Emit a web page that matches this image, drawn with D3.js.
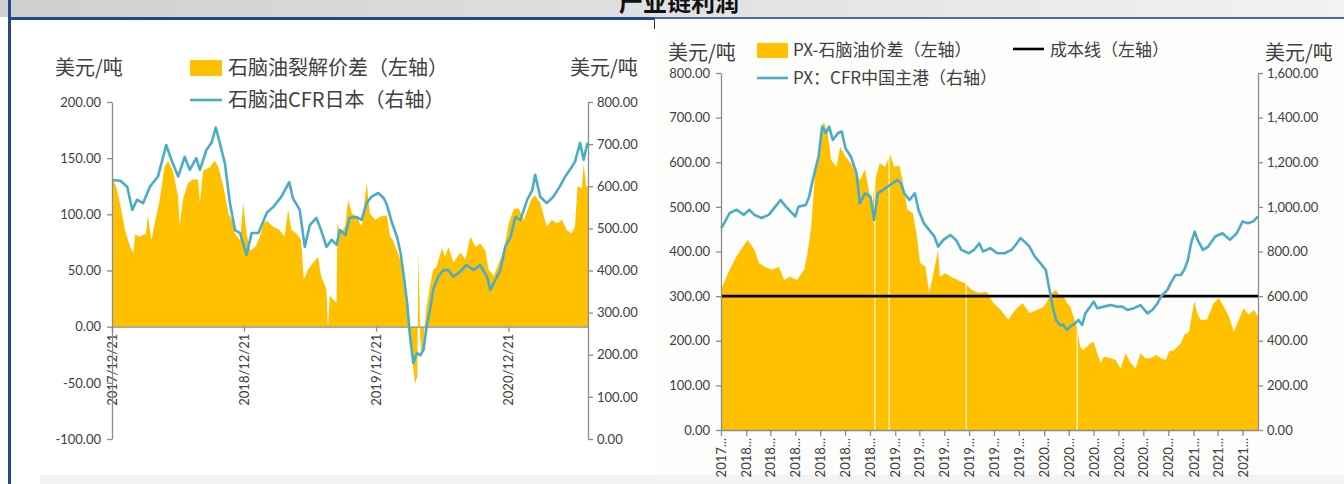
<!DOCTYPE html>
<html>
<head>
<meta charset="utf-8">
<script src="https://cdn.jsdelivr.net/npm/d3@7"></script>
<style>
    body { margin: 0; background: #ffffff; }
    svg text { font-family: Lato, "Noto Sans CJK SC", sans-serif; }
</style>
</head>
<body>
<svg id="vis_svg"></svg>
<script>
// ---- Data ----

// Left chart: naphtha crack spread (left axis)
const crackDates = ['2017-12-21','2017-12-23','2018-01-03','2018-01-12','2018-01-26','2018-02-09','2018-02-18','2018-02-23','2018-03-08','2018-03-25',
    '2018-03-30','2018-04-09','2018-04-18','2018-05-02','2018-05-15','2018-05-25','2018-06-08','2018-06-22','2018-06-26','2018-07-05',
    '2018-07-19','2018-08-02','2018-08-16','2018-08-21','2018-08-30','2018-09-18','2018-10-01','2018-10-11','2018-10-25','2018-11-08',
    '2018-11-17','2018-11-26','2018-12-10','2018-12-19','2018-12-28','2019-01-07','2019-01-21','2019-02-03','2019-02-13','2019-02-22',
    '2019-03-12','2019-03-29','2019-04-12','2019-04-22','2019-05-01','2019-05-15','2019-05-28','2019-06-04','2019-06-16','2019-06-30',
    '2019-07-14','2019-07-22','2019-08-06','2019-08-10','2019-08-15','2019-08-25','2019-09-03','2019-09-05','2019-09-13','2019-09-26',
    '2019-10-05','2019-10-15','2019-10-28','2019-11-11','2019-11-25','2019-12-04','2019-12-18','2020-01-01','2020-01-20','2020-01-29',
    '2020-02-06','2020-02-27','2020-03-07','2020-03-16','2020-03-24','2020-03-29','2020-04-02','2020-04-07','2020-04-13','2020-04-16',
    '2020-04-21','2020-04-25','2020-04-30','2020-05-04','2020-05-09','2020-05-18','2020-05-27','2020-06-05','2020-06-20','2020-06-29',
    '2020-07-08','2020-07-22','2020-08-10','2020-08-24','2020-09-07','2020-09-21','2020-10-04','2020-10-18','2020-10-27','2020-11-11',
    '2020-11-25','2020-12-08','2020-12-22','2021-01-05','2021-01-19','2021-02-02','2021-02-21','2021-03-05','2021-03-19','2021-04-06',
    '2021-04-20','2021-05-04','2021-05-18','2021-05-31','2021-06-14','2021-06-23','2021-06-30','2021-07-12','2021-07-17','2021-07-24',
    '2021-07-29'];
const crackSpread = [132,132,123,110,86,71,66,82,80,83,
    99,77,92,113,142,148,138,115,89,113,
    128,131,131,110,139,142,148,142,125,101,
    95,83,77,110,83,68,71,80,92,94,
    89,86,80,104,86,83,77,42,51,57,
    62,45,33,-3,28,24,21,92,83,89,
    113,101,98,89,128,101,95,98,99,80,
    77,59,36,15,-3,-18,-38,-51,-44,67,
    -7,-29,-17,3,18,36,51,53,70,62,
    71,57,66,60,80,71,74,68,51,45,
    57,68,92,105,105,95,113,117,110,89,
    95,92,95,86,83,89,125,123,145,125,
    125];

// Left chart: naphtha CFR Japan (right axis)
const japanDates = ['2017-12-21','2018-01-13','2018-02-01','2018-02-15','2018-02-28','2018-03-17','2018-04-05','2018-04-27','2018-05-20','2018-06-03',
    '2018-06-22','2018-07-10','2018-07-24','2018-08-11','2018-08-21','2018-09-08','2018-09-22','2018-10-04','2018-10-15','2018-10-29',
    '2018-11-12','2018-11-26','2018-12-10','2018-12-28','2019-01-11','2019-01-30','2019-02-22','2019-03-12','2019-04-03','2019-04-25',
    '2019-05-05','2019-05-24','2019-06-07','2019-06-21','2019-07-09','2019-07-22','2019-08-06','2019-08-20','2019-09-03','2019-09-12',
    '2019-09-27','2019-10-09','2019-10-27','2019-11-11','2019-11-25','2019-12-08','2019-12-27','2020-01-11','2020-01-20','2020-02-03',
    '2020-02-17','2020-02-27','2020-03-07','2020-03-16','2020-03-24','2020-04-02','2020-04-12','2020-04-21','2020-04-30','2020-05-09',
    '2020-05-18','2020-05-27','2020-06-10','2020-06-24','2020-07-08','2020-07-22','2020-08-09','2020-08-27','2020-09-16','2020-10-04',
    '2020-10-23','2020-11-01','2020-11-15','2020-11-29','2020-12-12','2020-12-27','2021-01-09','2021-01-23','2021-02-11','2021-02-25',
    '2021-03-05','2021-03-19','2021-04-06','2021-04-24','2021-05-12','2021-05-26','2021-06-09','2021-06-23','2021-07-07','2021-07-17',
    '2021-07-26','2021-07-29'];
const japanPrice = [615,613,599,544,568,560,599,623,698,663,
    623,670,639,667,639,686,703,739,703,655,
    560,496,489,437,489,489,537,551,575,610,
    572,544,456,508,525,496,456,473,461,496,
    484,525,527,520,560,575,584,572,556,513,
    480,441,385,323,243,180,204,199,211,267,
    306,354,385,401,401,385,397,413,401,413,
    385,354,378,401,456,480,527,520,568,591,
    627,575,560,575,599,622,639,658,703,663,
    698,703];

// Right chart: PX - naphtha spread (left axis)
const pxSpreadDates = ['2017-12-21','2017-12-24','2018-01-11','2018-01-28','2018-02-24','2018-03-13','2018-03-24','2018-04-07','2018-04-25','2018-05-12',
    '2018-05-25','2018-06-08','2018-06-25','2018-07-13','2018-07-21','2018-07-30','2018-08-08','2018-08-17','2018-08-26','2018-08-30',
    '2018-09-08','2018-09-17','2018-09-30','2018-10-09','2018-10-22','2018-11-04','2018-11-18','2018-11-26','2018-12-09','2018-12-18',
    '2018-12-27','2019-01-05','2019-01-14','2019-01-27','2019-02-09','2019-02-18','2019-03-03','2019-03-11','2019-03-23','2019-04-05',
    '2019-04-14','2019-04-23','2019-05-06','2019-05-15','2019-05-24','2019-06-06','2019-06-10','2019-06-24','2019-07-06','2019-07-24',
    '2019-08-11','2019-08-28','2019-09-15','2019-10-03','2019-10-20','2019-11-07','2019-11-25','2019-12-12','2019-12-30','2020-01-16',
    '2020-02-03','2020-02-21','2020-03-10','2020-03-21','2020-03-31','2020-04-08','2020-04-17','2020-04-25','2020-05-03','2020-05-11',
    '2020-05-19','2020-05-27','2020-06-13','2020-06-21','2020-06-30','2020-07-08','2020-07-16','2020-08-02','2020-08-14','2020-08-26',
    '2020-09-08','2020-09-20','2020-10-02','2020-10-14','2020-10-26','2020-11-08','2020-11-21','2020-12-03','2020-12-15','2020-12-23',
    '2021-01-05','2021-01-13','2021-01-21','2021-01-29','2021-02-10','2021-02-19','2021-02-23','2021-03-02','2021-03-10','2021-03-26',
    '2021-04-11','2021-04-24','2021-05-06','2021-05-19','2021-05-31','2021-06-12','2021-06-24','2021-07-06','2021-07-19','2021-07-29'];
const pxSpread = [318,321,359,389,426,404,374,366,359,366,
    336,344,336,359,396,456,568,613,680,691,
    666,605,590,635,613,598,576,560,583,538,
    508,568,598,590,617,590,592,560,493,486,
    441,374,366,307,344,404,344,351,344,336,
    329,314,307,310,284,269,247,269,284,262,
    269,277,307,314,299,301,284,277,254,232,
    187,179,194,197,172,150,164,161,157,138,
    172,150,138,172,161,161,168,161,157,176,
    179,187,194,213,220,269,288,262,247,247,
    284,295,277,254,220,247,273,258,269,254];
// days with no spread value (thin white gaps in the fill)
const pxSpreadGaps = ['2019-01-02','2019-02-06','2019-08-14','2020-05-12'];

// Right chart: cost line (left axis)
const costLine = 300;

// Right chart: PX CFR China main port (right axis)
const pxPriceDates = ['2017-12-21','2017-12-24','2018-01-11','2018-01-28','2018-02-15','2018-02-28','2018-03-13','2018-03-30','2018-04-17','2018-05-03',
    '2018-05-16','2018-05-29','2018-06-21','2018-06-29','2018-07-17','2018-07-25','2018-08-03','2018-08-17','2018-08-26','2018-09-04',
    '2018-09-12','2018-09-21','2018-10-04','2018-10-13','2018-10-22','2018-11-04','2018-11-18','2018-11-26','2018-12-09','2018-12-22',
    '2018-12-31','2019-01-09','2019-01-22','2019-02-09','2019-02-26','2019-03-07','2019-03-15','2019-03-28','2019-04-10','2019-04-19',
    '2019-05-02','2019-05-15','2019-05-28','2019-06-06','2019-06-19','2019-07-06','2019-07-20','2019-08-02','2019-08-20','2019-09-02',
    '2019-09-15','2019-09-24','2019-10-12','2019-10-29','2019-11-16','2019-12-03','2019-12-16','2019-12-25','2020-01-08','2020-01-16',
    '2020-01-29','2020-02-12','2020-02-25','2020-03-05','2020-03-13','2020-03-21','2020-03-31','2020-04-08','2020-04-17','2020-04-25',
    '2020-05-07','2020-05-15','2020-05-24','2020-06-01','2020-06-13','2020-06-21','2020-06-30','2020-07-16','2020-08-02','2020-08-18',
    '2020-08-30','2020-09-12','2020-09-28','2020-10-14','2020-10-31','2020-11-12','2020-11-25','2020-12-03','2020-12-11','2020-12-19',
    '2020-12-27','2021-01-08','2021-01-21','2021-01-29','2021-02-07','2021-02-15','2021-02-24','2021-03-03','2021-03-16','2021-03-29',
    '2021-04-15','2021-05-03','2021-05-21','2021-06-07','2021-06-21','2021-07-04','2021-07-17','2021-07-29'];
const pxPrice = [905,912,972,987,964,987,964,950,964,1001,
    1031,1001,957,1001,1009,1046,1121,1226,1360,1331,
    1360,1300,1331,1338,1263,1226,1152,1016,1061,1046,
    942,1061,1076,1099,1121,1106,1061,1031,1061,987,
    927,897,867,822,852,874,852,807,792,807,
    837,800,815,792,792,807,837,860,837,822,
    777,747,717,628,553,493,470,471,448,463,
    478,493,471,523,553,575,546,553,560,553,
    553,538,546,560,523,538,568,598,613,628,
    658,695,695,717,760,837,889,852,807,822,
    867,882,852,882,934,927,934,957];

// Axis ticks and labels
const leftXTicks = ['2017-12-21','2018-12-21','2019-12-21','2020-12-21'];
const crackTicks = [-100,-50,0,50,100,150,200];
const japanTicks = [0,100,200,300,400,500,600,700,800];
const pxSpreadTicks = [0,100,200,300,400,500,600,700,800];
const pxPriceTicks = [0,200,400,600,800,1000,1200,1400,1600];
const rightXTickCount = 22;            // one every two months from 2017-12-21
const dateRange = ['2017-12-21','2021-07-29'];

const titleText = '产业链利润';
const unitText = '美元/吨';

// ---- Layout ----
let config = {
    'svg': { 'width': 1344, 'height': 484 },
    'left': {},
    'right': {}
};
config.left.x0 = 112;  config.left.x1 = 588;
config.left.yTop = 102; config.left.yBottom = 439;
config.right.x0 = 721; config.right.x1 = 1258;
config.right.yTop = 73; config.right.yBottom = 430;

const colors = {
    orange: '#FFC000',
    blue: '#4BACC6',
    axis: '#8c8c8c',
    text: '#404040'
};

const parse = d3.timeParse('%Y-%m-%d');
let svg;

function visSetup() {
    svg = d3.select('#vis_svg')
        .attr('width', config.svg.width)
        .attr('height', config.svg.height);

    // Page frame: title bar, rules, panel backgrounds
    let defs = svg.append('defs');
    let grad = defs.append('linearGradient').attr('id', 'titleGrad');
    grad.append('stop').attr('offset', '0%').attr('stop-color', '#cfcfcf');
    grad.append('stop').attr('offset', '100%').attr('stop-color', '#f2f2f2');

    svg.append('rect').attr('x', 655).attr('y', 20).attr('width', 689).attr('height', 456).attr('fill', '#fdfdfc');
    svg.append('rect').attr('x', 0).attr('y', 0).attr('width', 1344).attr('height', 17).attr('fill', 'url(#titleGrad)');
    // the heading sits half above the top edge, as in the source page
    svg.append('text')
        .attr('x', 679).attr('y', 11)
        .attr('text-anchor', 'middle')
        .style('font-family', '"Noto Sans CJK SC", sans-serif')
        .style('font-size', '24px')
        .style('font-weight', 'bold')
        .attr('fill', '#111')
        .text(titleText);
    svg.append('rect').attr('x', 8).attr('y', 17).attr('width', 647).attr('height', 3).attr('fill', '#24478c');
    svg.append('rect').attr('x', 655).attr('y', 17).attr('width', 689).attr('height', 2).attr('fill', '#4a6aa8');
    svg.append('rect').attr('x', 8).attr('y', 0).attr('width', 3).attr('height', 484).attr('fill', '#24478c');
    svg.append('line').attr('x1', 654.5).attr('x2', 654.5).attr('y1', 20).attr('y2', 29).attr('stroke', '#333').attr('stroke-width', 1);
    svg.append('rect').attr('x', 40).attr('y', 475).attr('width', 1304).attr('height', 9).attr('fill', '#f3f3f3');
}

function toSeries(dates, values) {
    return d3.zip(dates, values).map(d => ({ date: parse(d[0]), value: d[1] }));
}

function styleAxis(g) {
    g.select('.domain').attr('stroke', colors.axis).attr('stroke-width', 1.3);
    g.selectAll('.tick line').attr('stroke', colors.axis).attr('stroke-width', 1.3);
    g.selectAll('.tick text')
        .attr('fill', colors.text)
        .style('font-family', 'Lato, sans-serif')
        .style('font-size', '13px');
}

/**
 * Left chart: naphtha crack spread vs naphtha CFR Japan
 */
function drawLeft() {
    let c = config.left;
    let g = svg.append('g').attr('id', 'left_chart');

    let x = d3.scaleTime().domain(dateRange.map(parse)).range([c.x0, c.x1]);
    let yL = d3.scaleLinear().domain([-100, 200]).range([c.yBottom, c.yTop]);
    let yR = d3.scaleLinear().domain([0, 800]).range([c.yBottom, c.yTop]);

    let spread = toSeries(crackDates, crackSpread);
    let price = toSeries(japanDates, japanPrice);

    g.append('path')
        .datum(spread)
        .attr('fill', colors.orange)
        .attr('d', d3.area().x(d => x(d.date)).y0(yL(0)).y1(d => yL(d.value)));

    // x axis on the zero line
    let xAxis = g.append('g')
        .attr('transform', translate(0, yL(0)))
        .call(d3.axisBottom(x).tickValues(leftXTicks.map(parse)).tickSize(5).tickSizeOuter(0)
            .tickFormat(d3.timeFormat('%Y/%m/%d')));
    styleAxis(xAxis);
    xAxis.selectAll('.tick text')
        .attr('transform', 'rotate(-90)')
        .attr('text-anchor', 'end')
        .attr('x', -7).attr('y', 0).attr('dy', '0.35em');

    g.append('path')
        .datum(price)
        .attr('fill', 'none')
        .attr('stroke', colors.blue)
        .attr('stroke-width', 2.6)
        .attr('stroke-linejoin', 'round')
        .attr('d', d3.line().x(d => x(d.date)).y(d => yR(d.value)));

    let axL = g.append('g')
        .attr('transform', translate(c.x0, 0))
        .call(d3.axisLeft(yL).tickValues(crackTicks).tickSize(5).tickPadding(6).tickSizeOuter(0)
            .tickFormat(d => d.toFixed(2)));
    styleAxis(axL);

    let axR = g.append('g')
        .attr('transform', translate(c.x1, 0))
        .call(d3.axisRight(yR).tickValues(japanTicks).tickSize(5).tickPadding(4).tickSizeOuter(0)
            .tickFormat(d3.format(',.2f')));
    styleAxis(axR);

    // units
    g.append('text').attr('class', 'cjk').attr('x', 55).attr('y', 75).text(unitText);
    g.append('text').attr('class', 'cjk').attr('x', 570).attr('y', 75).text(unitText);

    // legend
    g.append('rect').attr('x', 190).attr('y', 60).attr('width', 32).attr('height', 16).attr('fill', colors.orange);
    g.append('text').attr('class', 'cjk').attr('x', 228).attr('y', 75).text('石脑油裂解价差（左轴）');
    g.append('line').attr('x1', 190).attr('x2', 222).attr('y1', 100).attr('y2', 100)
        .attr('stroke', colors.blue).attr('stroke-width', 2.6);
    g.append('text').attr('class', 'cjk').attr('x', 228).attr('y', 107).text('石脑油CFR日本（右轴）');

    g.selectAll('text.cjk')
        .style('font-family', '"Noto Sans CJK SC", sans-serif')
        .style('font-size', '20px')
        .attr('fill', colors.text);
}

/**
 * Right chart: PX - naphtha spread, cost line and PX CFR China
 */
function drawRight() {
    let c = config.right;
    let g = svg.append('g').attr('id', 'right_chart');

    let x = d3.scaleTime().domain(dateRange.map(parse)).range([c.x0, c.x1]);
    let yL = d3.scaleLinear().domain([0, 800]).range([c.yBottom, c.yTop]);
    let yR = d3.scaleLinear().domain([0, 1600]).range([c.yBottom, c.yTop]);

    let spread = toSeries(pxSpreadDates, pxSpread);
    let price = toSeries(pxPriceDates, pxPrice);

    let spreadArea = d3.area().x(d => x(d.date)).y0(yL(0)).y1(d => yL(d.value));

    g.append('clipPath').attr('id', 'spreadClip')
        .append('path').datum(spread).attr('d', spreadArea);

    g.append('path')
        .datum(spread)
        .attr('fill', colors.orange)
        .attr('d', spreadArea);

    // missing days show as hairline gaps inside the fill
    g.append('g')
        .attr('clip-path', 'url(#spreadClip)')
        .selectAll('line')
        .data(pxSpreadGaps.map(parse))
        .join('line')
        .attr('x1', d => x(d)).attr('x2', d => x(d))
        .attr('y1', yL(0)).attr('y2', c.yTop)
        .attr('stroke', '#fff6dc').attr('stroke-width', 1.2);

    g.append('line')
        .attr('x1', x.range()[0]).attr('x2', x.range()[1])
        .attr('y1', yL(costLine)).attr('y2', yL(costLine))
        .attr('stroke', '#000').attr('stroke-width', 2.6);

    g.append('path')
        .datum(price)
        .attr('fill', 'none')
        .attr('stroke', colors.blue)
        .attr('stroke-width', 2.6)
        .attr('stroke-linejoin', 'round')
        .attr('d', d3.line().x(d => x(d.date)).y(d => yR(d.value)));

    let start = parse(dateRange[0]);
    let tickDates = d3.range(rightXTickCount).map(i => d3.timeMonth.offset(start, i * 2));
    let xAxis = g.append('g')
        .attr('transform', translate(0, c.yBottom))
        .call(d3.axisBottom(x).tickValues(tickDates).tickSize(6).tickSizeOuter(0)
            .tickFormat(d => d.getFullYear() + '...'));
    styleAxis(xAxis);
    xAxis.selectAll('.tick text')
        .attr('transform', 'rotate(-90)')
        .attr('text-anchor', 'end')
        .attr('x', -8).attr('y', 0).attr('dy', '0.35em');

    let axL = g.append('g')
        .attr('transform', translate(c.x0, 0))
        .call(d3.axisLeft(yL).tickValues(pxSpreadTicks).tickSize(5).tickPadding(6).tickSizeOuter(0)
            .tickFormat(d3.format(',.2f')));
    styleAxis(axL);

    let axR = g.append('g')
        .attr('transform', translate(c.x1, 0))
        .call(d3.axisRight(yR).tickValues(pxPriceTicks).tickSize(5).tickPadding(4).tickSizeOuter(0)
            .tickFormat(d3.format(',.2f')));
    styleAxis(axR);

    // units
    g.append('text').attr('class', 'unit').attr('x', 668).attr('y', 60).text(unitText);
    g.append('text').attr('class', 'unit').attr('x', 1265).attr('y', 60).text(unitText);
    g.selectAll('text.unit').style('font-size', '20px');

    // legend
    g.append('rect').attr('x', 757).attr('y', 43).attr('width', 31).attr('height', 15).attr('fill', colors.orange);
    g.append('text').attr('class', 'leg').attr('x', 793).attr('y', 56).text('PX-石脑油价差（左轴）');
    g.append('line').attr('x1', 1013).attr('x2', 1044).attr('y1', 49).attr('y2', 49)
        .attr('stroke', '#000').attr('stroke-width', 2.6);
    g.append('text').attr('class', 'leg').attr('x', 1050).attr('y', 56).text('成本线（左轴）');
    g.append('line').attr('x1', 757).attr('x2', 788).attr('y1', 78).attr('y2', 78)
        .attr('stroke', colors.blue).attr('stroke-width', 2.6);
    g.append('text').attr('class', 'leg').attr('x', 793).attr('y', 84).text('PX：CFR中国主港（右轴）');
    g.selectAll('text.leg').style('font-size', '17px');

    g.selectAll('text.unit, text.leg')
        .style('font-family', '"Noto Sans CJK SC", sans-serif')
        .attr('fill', colors.text);
}

// Helper functions
function translate(x, y) {
    return 'translate(' + x + ',' + y + ')';
}

visSetup();
drawLeft();
drawRight();
</script>
</body>
</html>
